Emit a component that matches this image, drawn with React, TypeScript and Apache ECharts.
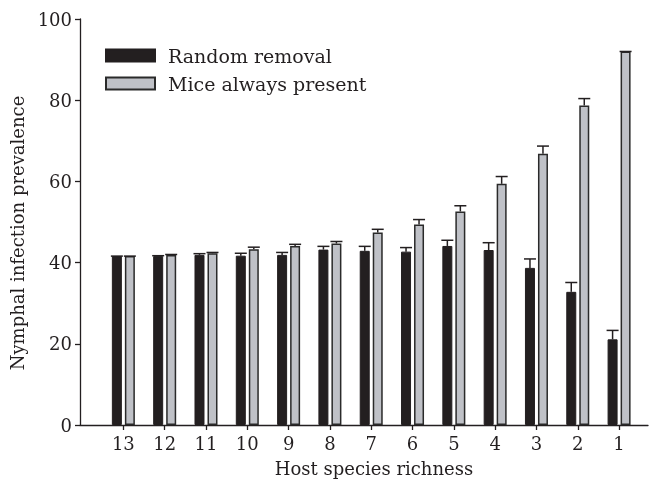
import React, { useEffect, useRef } from "react";
import * as echarts from "echarts";

const categories = ["13", "12", "11", "10", "9", "8", "7", "6", "5", "4", "3", "2", "1"];
const randomRemoval = [41.6, 41.6, 41.9, 41.7, 41.9, 43.2, 42.9, 42.7, 44.1, 43.1, 38.7, 32.8, 21.1];
const randomRemovalErr = [0, 0.1, 0.3, 0.6, 0.6, 0.8, 1.1, 1.0, 1.4, 1.8, 2.2, 2.3, 2.2];
const miceAlwaysPresent = [41.6, 41.9, 42.3, 43.3, 44.1, 44.7, 47.4, 49.4, 52.6, 59.4, 66.8, 78.7, 92.0];
const miceAlwaysPresentErr = [0, 0.1, 0.2, 0.5, 0.4, 0.5, 0.8, 1.2, 1.4, 1.8, 1.9, 1.7, 0];
const yTicks = [0, 20, 40, 60, 80, 100];

const FONT = "DejaVu Serif";
const INK = "#231f20";

export default function App() {
  const ref = useRef<HTMLDivElement>(null);
  useEffect(() => {
    const chart = echarts.init(ref.current!, null, { renderer: "svg" });
    const idx = categories.map((_, i) => i);
    const errRender = (offset: number) => (params: any, api: any) => {
      const x = api.value(0);
      const v = api.value(1);
      const e = api.value(2);
      const base = api.coord([x, v]);
      const top = api.coord([x, v + e]);
      const cx = base[0] + offset;
      const style = { stroke: INK, lineWidth: 1.5 };
      return {
        type: "group",
        children: [
          { type: "line", shape: { x1: cx, y1: base[1], x2: cx, y2: top[1] }, style },
          { type: "line", shape: { x1: cx - 6, y1: top[1], x2: cx + 6, y2: top[1] }, style },
        ],
      };
    };
    chart.setOption({
      animation: false,
      grid: { left: 80, right: 9, top: 19, bottom: 59 },
      legend: {
        data: ["Random removal", "Mice always present"],
        orient: "vertical",
        left: 100,
        top: 41,
        icon: "rect",
        itemWidth: 49,
        itemHeight: 12,
        itemGap: 9,
        textStyle: { fontFamily: FONT, fontSize: 19, color: INK, padding: [0, 0, 0, 8] },
      },
      xAxis: {
        type: "value",
        min: -1.05,
        max: 12.7,
        axisLine: { show: true, lineStyle: { color: INK, width: 1.3 } },
        axisTick: { show: true, customValues: idx, length: 5, lineStyle: { color: INK, width: 1.3 } },
        axisLabel: {
          customValues: idx,
          formatter: (v: number) => categories[Math.round(v)] ?? "",
          fontFamily: FONT,
          fontSize: 18,
          color: INK,
          margin: 9,
        },
        splitLine: { show: false },
        name: "Host species richness",
        nameLocation: "middle",
        nameGap: 34,
        nameTextStyle: { fontFamily: FONT, fontSize: 18, color: INK, padding: [0, 0, 0, 20] },
      },
      yAxis: {
        type: "value",
        min: yTicks[0],
        max: yTicks[yTicks.length - 1],
        interval: 20,
        axisLine: { show: true, onZero: false, lineStyle: { color: INK, width: 1.3 } },
        axisTick: { show: true, length: 5, lineStyle: { color: INK, width: 1.3 } },
        axisLabel: { fontFamily: FONT, fontSize: 18, color: INK, margin: 8 },
        splitLine: { show: false },
        name: "Nymphal infection prevalence",
        nameLocation: "middle",
        nameGap: 54,
        nameTextStyle: { fontFamily: FONT, fontSize: 18, color: INK, padding: [0, 22, 0, 0] },
      },
      series: [
        {
          name: "Random removal",
          type: "bar",
          barWidth: 10,
          barGap: "30%",
          data: idx.map((i) => [i, randomRemoval[i]]),
          itemStyle: { color: INK, borderColor: INK, borderWidth: 1 },
        },
        {
          name: "Mice always present",
          type: "bar",
          barWidth: 10,
          barGap: "30%",
          data: idx.map((i) => [i, miceAlwaysPresent[i]]),
          itemStyle: { color: "#bfc1c7", borderColor: "#2a2a2a", borderWidth: 1.5 },
        },
        {
          name: "rr-err",
          type: "custom",
          renderItem: errRender(-6.5),
          data: idx.map((i) => [i, randomRemoval[i], randomRemovalErr[i]]),
          z: 5,
        },
        {
          name: "map-err",
          type: "custom",
          renderItem: errRender(6.5),
          data: idx.map((i) => [i, miceAlwaysPresent[i], miceAlwaysPresentErr[i]]),
          z: 5,
        },
      ],
    });
    return () => chart.dispose();
  }, []);
  return <div ref={ref} style={{ position: "fixed", left: 0, top: 0, width: 657, height: 484 }} />;
}
